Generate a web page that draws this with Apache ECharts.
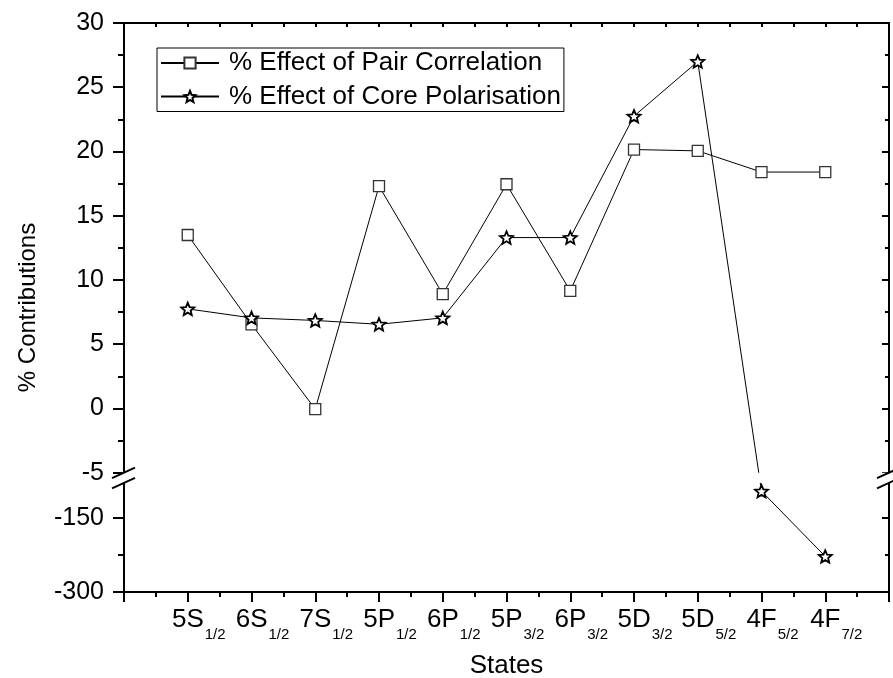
<!DOCTYPE html>
<html>
<head>
<meta charset="utf-8">
<script src="https://cdn.jsdelivr.net/npm/echarts@6/dist/echarts.min.js"></script>
<style>
  html, body { margin: 0; padding: 0; background: #fff; }
  #main { width: 893px; height: 678px; }
</style>
</head>
<body>
<div id="main"></div>
<script>
// states on the x axis (term symbol + subscript)
const stateNames = ['5S', '6S', '7S', '5P', '6P', '5P', '6P', '5D', '5D', '4F', '4F']
const stateSubs = ['1/2', '1/2', '1/2', '1/2', '1/2', '3/2', '3/2', '3/2', '5/2', '5/2', '7/2']

// % contributions
const pairCorrelation = [13.5, 6.55, -0.05, 17.3, 8.9, 17.45, 9.15, 20.15, 20.05, 18.4, 18.4]
const corePolarisation = [7.75, 7.05, 6.85, 6.55, 7.05, 13.3, 13.3, 22.75, 27.0, -96, -228]

// y tick values (real units)
const yMajorTicks = [30, 25, 20, 15, 10, 5, 0, -5, -150, -300]
const yMinorTicks = [27.5, 22.5, 17.5, 12.5, 7.5, 2.5, -2.5, -225]

// broken axis: -5..30 linear on top, -300..-75 squeezed below
const BREAK_TOP = -5
const BREAK_BOTTOM = -75
const BREAK_GAP = 0.63
const LOWER_SCALE = 1 / 26
const Y_MIN = -300
const Y_MAX = 30

function toAxis(v) {
  if (v >= BREAK_TOP) return v
  return BREAK_TOP - BREAK_GAP - (BREAK_BOTTOM - v) * LOWER_SCALE
}
function fromAxis(d) {
  if (d >= BREAK_TOP - 1e-6) return d
  return BREAK_BOTTOM - (BREAK_TOP - BREAK_GAP - d) / LOWER_SCALE
}

const FONT = 'Liberation Sans, Arial, Helvetica, sans-serif'
const STAR = 'path://M50 0 L63.2 31.8 L97.55 34.55 L71.4 56.95 L79.4 90.45 L50 72.5 L20.6 90.45 L28.6 56.95 L2.45 34.55 L36.8 31.8 Z'

const axisLineStyle = { color: '#000', width: 2 }

const option = {
  animation: false,
  backgroundColor: '#fff',
  grid: { left: 124, right: 4, top: 23, bottom: 86, outerBoundsMode: 'none' },
  legend: {
    orient: 'vertical',
    left: 157,
    top: 48,
    padding: [2, 3, 2, 3],
    itemGap: 7.5,
    itemWidth: 58,
    itemHeight: 14,
    borderColor: '#000',
    borderWidth: 1,
    borderRadius: 0,
    textStyle: { fontSize: 26, fontFamily: FONT, color: '#000', padding: [0, 0, 0, 5] },
    data: ['% Effect of Pair Correlation', '% Effect of Core Polarisation']
  },
  xAxis: [
    {
      type: 'value',
      position: 'bottom',
      min: 0,
      max: 12,
      interval: 1,
      name: 'States',
      nameLocation: 'middle',
      nameGap: 61,
      nameTextStyle: { fontSize: 26, fontFamily: FONT, color: '#000' },
      axisLine: { onZero: false, lineStyle: axisLineStyle },
      axisTick: { inside: false, length: 10, lineStyle: axisLineStyle },
      minorTick: { show: true, splitNumber: 2, length: 5, lineStyle: axisLineStyle },
      splitLine: { show: false },
      axisLabel: {
        margin: 15,
        formatter: function (value) {
          const i = Math.round(value) - 1
          if (i < 0 || i >= stateNames.length) return ''
          return '{sp|}{b|' + stateNames[i] + '}{s|' + stateSubs[i] + '}'
        },
        rich: {
          sp: { width: 22 },
          b: { fontSize: 26, fontFamily: FONT, color: '#000', lineHeight: 30, verticalAlign: 'top' },
          s: { fontSize: 15, fontFamily: FONT, color: '#000', lineHeight: 15, padding: [20, 0, 0, 1], verticalAlign: 'top' }
        }
      }
    },
    {
      type: 'value',
      position: 'top',
      min: 0,
      max: 12,
      interval: 0.5,
      axisLine: { onZero: false, lineStyle: axisLineStyle },
      axisTick: { inside: true, length: 4, lineStyle: axisLineStyle },
      axisLabel: { show: false },
      splitLine: { show: false }
    }
  ],
  yAxis: [
    {
      type: 'value',
      position: 'left',
      min: toAxis(Y_MIN),
      max: Y_MAX,
      name: '% Contributions',
      nameLocation: 'middle',
      nameGap: 84,
      nameTextStyle: { fontSize: 24, fontFamily: FONT, color: '#000' },
      axisLine: { show: true, onZero: false, lineStyle: axisLineStyle },
      axisTick: { show: true, inside: false, length: 11, lineStyle: axisLineStyle, customValues: yMajorTicks.map(toAxis) },
      splitLine: { show: false },
      axisLabel: {
        margin: 20,
        fontSize: 25,
        fontFamily: FONT,
        color: '#000',
        customValues: yMajorTicks.map(toAxis),
        formatter: function (value) { return String(Math.round(fromAxis(value))) }
      }
    },
    {
      type: 'value',
      position: 'left',
      min: toAxis(Y_MIN),
      max: Y_MAX,
      axisLine: { show: false, onZero: false },
      axisTick: { show: true, inside: false, length: 6, lineStyle: axisLineStyle, customValues: yMinorTicks.map(toAxis) },
      axisLabel: { show: false },
      splitLine: { show: false }
    },
    {
      type: 'value',
      position: 'right',
      min: toAxis(Y_MIN),
      max: Y_MAX,
      axisLine: { show: true, onZero: false, lineStyle: axisLineStyle },
      axisTick: { show: true, inside: true, length: 7, lineStyle: axisLineStyle, customValues: yMajorTicks.map(toAxis) },
      axisLabel: { show: false },
      splitLine: { show: false }
    },
    {
      type: 'value',
      position: 'right',
      min: toAxis(Y_MIN),
      max: Y_MAX,
      axisLine: { show: false, onZero: false },
      axisTick: { show: true, inside: true, length: 4, lineStyle: axisLineStyle, customValues: yMinorTicks.map(toAxis) },
      axisLabel: { show: false },
      splitLine: { show: false }
    }
  ],
  series: [
    {
      name: '% Effect of Pair Correlation',
      type: 'line',
      xAxisIndex: 0,
      yAxisIndex: 0,
      symbol: 'rect',
      symbolSize: 11,
      lineStyle: { color: '#000', width: 1 },
      itemStyle: { color: '#fff', borderColor: '#333', borderWidth: 1.3 },
      data: pairCorrelation.map((v, i) => [i + 1, toAxis(v)]),
      z: 3
    },
    {
      name: '% Effect of Core Polarisation',
      type: 'line',
      xAxisIndex: 0,
      yAxisIndex: 0,
      symbol: STAR,
      symbolSize: 13,
      symbolKeepAspect: true,
      lineStyle: { color: '#000', width: 1 },
      itemStyle: { color: '#fff', borderColor: '#000', borderWidth: 1.8 },
      data: corePolarisation.map((v, i) => [i + 1, toAxis(v)]),
      z: 4
    }
  ]
}

const chart = echarts.init(document.getElementById('main'))
chart.setOption(option)

// blank band + break marks where the axis is broken
const yTop = chart.convertToPixel({ yAxisIndex: 0 }, toAxis(BREAK_TOP))
const yBot = chart.convertToPixel({ yAxisIndex: 0 }, toAxis(BREAK_BOTTOM)) + 2
const xLeft = chart.convertToPixel({ xAxisIndex: 0 }, 0)
const xRight = chart.convertToPixel({ xAxisIndex: 0 }, 12)

function slash(x, y) {
  return {
    type: 'line',
    z: 101,
    shape: { x1: x - 12, y1: y + 5.5, x2: x + 11, y2: y - 5 },
    style: { stroke: '#000', lineWidth: 2 }
  }
}

chart.setOption({
  graphic: [
    {
      type: 'rect',
      z: 100,
      shape: { x: xLeft - 2, y: yTop, width: xRight - xLeft + 4, height: yBot - yTop },
      style: { fill: '#fff' }
    },
    slash(xLeft, yTop), slash(xLeft, yBot),
    slash(xRight, yTop), slash(xRight, yBot)
  ]
})
</script>
</body>
</html>
